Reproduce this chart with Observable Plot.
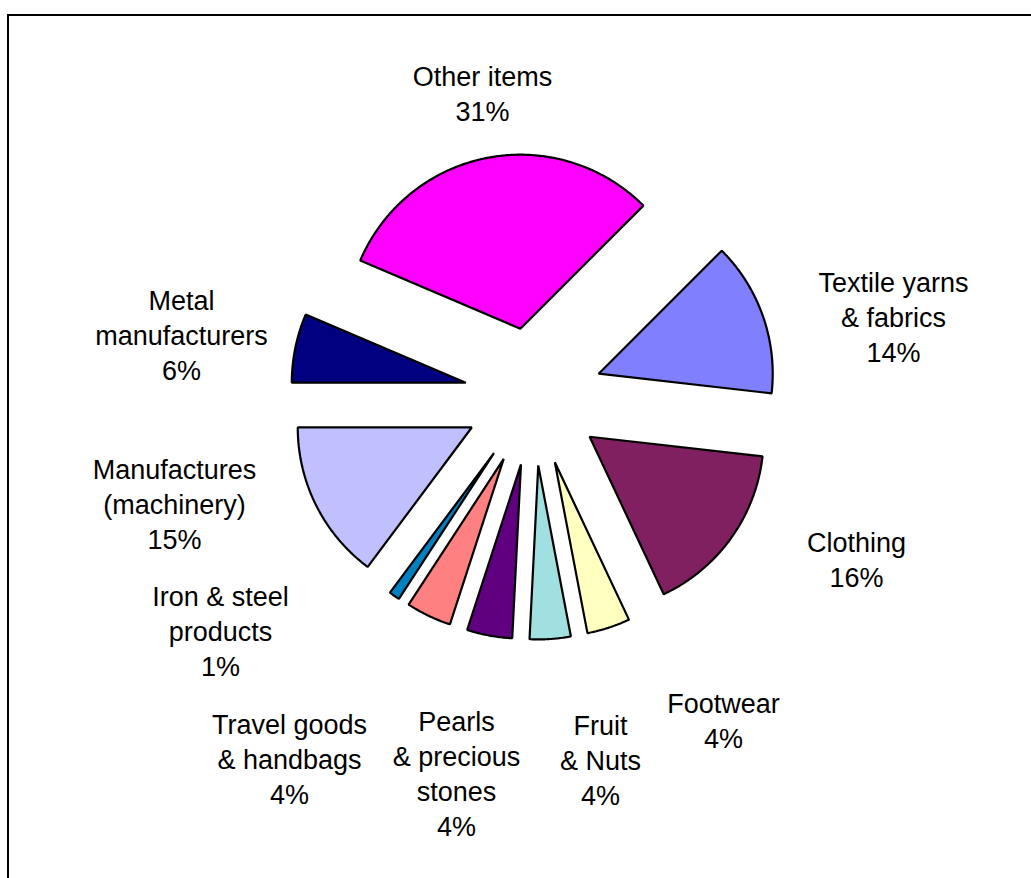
<!DOCTYPE html>
<html><head><meta charset="utf-8">
<script src="https://cdn.jsdelivr.net/npm/d3@7"></script>
<script src="https://cdn.jsdelivr.net/npm/@observablehq/plot@0.6"></script>
<style>
html,body{margin:0;padding:0;background:#fff;overflow:hidden;}
#wrap{position:relative;width:1031px;height:878px;overflow:hidden;}
#frame{position:absolute;left:7px;top:14px;width:2000px;height:2000px;border-top:2px solid #000;border-left:2px solid #000;pointer-events:none;}
</style></head><body>
<div id="wrap"><div id="chart"></div><div id="frame"></div></div>
<script>
// ---- data ----
const categories = ["Textile yarns\n& fabrics", "Clothing", "Footwear", "Fruit\n& Nuts", "Pearls\n& precious\nstones", "Travel goods\n& handbags", "Iron & steel\nproducts", "Manufactures\n(machinery)", "Metal\nmanufacturers", "Other items"];
const shares = [14.3, 16.2, 4.0, 3.8, 4.2, 4.2, 1.0, 14.8, 6.4, 31.1];
const colors = ["#8080FF", "#802060", "#FFFFC0", "#A0E0E0", "#600080", "#FF8080", "#0080C0", "#C0C0FF", "#000080", "#FF00FF"];

// ---- layout ----
// label anchor offsets from pie centre, in pie radii (y up)
const labelOffsets = [[2.069, 0.465], [1.856, -0.931], [1.092, -1.857], [0.385, -2.081], [-0.443, -2.161], [-1.402, -2.075], [-1.799, -1.339], [-2.063, -0.609], [-2.023, 0.362], [-0.293, 1.749]];
const R = 174, CX = 533, CY = 396, W = 1031, H = 878;
const explode = 0.397, startDeg = 45, step = 0.5;

const total = d3.sum(shares);
const rad = d => d * Math.PI / 180;
let acc = startDeg;
const slicePts = [];
const labels = [];
shares.forEach((v, i) => {
  const a0 = acc, a1 = acc + v / total * 360; acc = a1;
  const am = (a0 + a1) / 2;
  const ox = explode * Math.sin(rad(am)), oy = explode * Math.cos(rad(am));
  const pts = [];
  const pushArc = (from, to) => {
    const n = Math.max(1, Math.ceil(Math.abs(to - from) / step));
    for (let k = 0; k <= n; k++) {
      const a = from + (to - from) * k / n;
      pts.push([ox + Math.sin(rad(a)), oy + Math.cos(rad(a))]);
    }
  };
  pushArc(am, a1);
  pts.push([ox, oy]);
  pushArc(a0, am);
  pts.forEach(([x, y]) => slicePts.push({name: categories[i], color: colors[i], x, y}));
  labels.push({text: categories[i] + "\n" + Math.round(v / total * 100) + "%", x: labelOffsets[i][0], y: labelOffsets[i][1]});
});

const chart = Plot.plot({
  width: W, height: H, margin: 0,
  x: {domain: [-CX / R, (W - CX) / R], range: [0, W], axis: null},
  y: {domain: [-(H - CY) / R, CY / R], range: [H, 0], axis: null},
  color: {type: "identity"},
  style: {fontFamily: "'Liberation Sans', Arial, sans-serif", background: "transparent", overflow: "visible"},
  marks: [
    Plot.line(slicePts, {x: "x", y: "y", z: "name", fill: "color", stroke: "#000", strokeWidth: 2.2, strokeLinejoin: "miter", curve: "linear"}),
    Plot.text(labels, {x: "x", y: "y", text: "text", fontSize: 27, lineHeight: 1.3, fill: "#000", textAnchor: "middle", lineAnchor: "middle"})
  ]
});
document.getElementById("chart").appendChild(chart);
</script>
</body></html>
